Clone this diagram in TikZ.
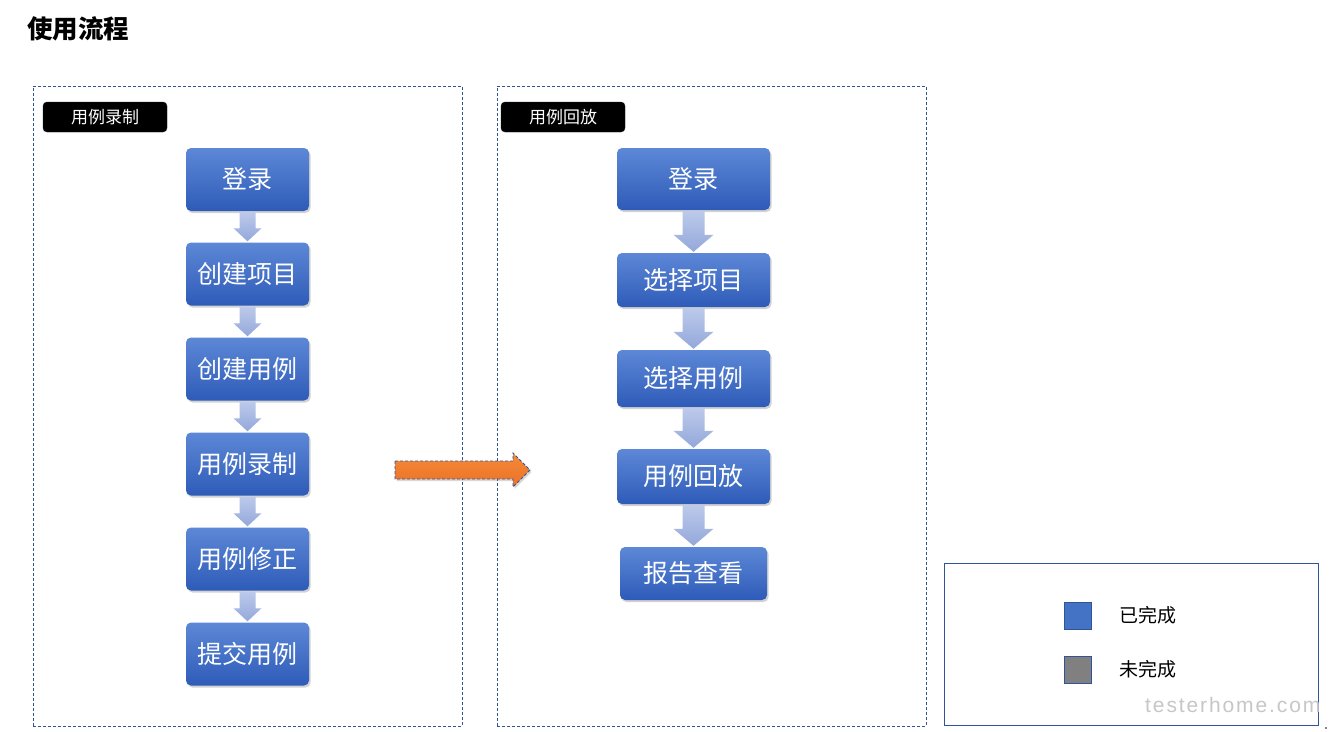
\documentclass[tikz,border=0pt]{standalone}
\usepackage{fontspec}
\setmainfont{Noto Sans CJK SC}
\newfontfamily\wmfont[LetterSpace=9]{Liberation Sans}
\usetikzlibrary{shadows,calc}
\definecolor{boxtop}{HTML}{5D88D7}
\definecolor{boxbot}{HTML}{2E5BB8}
\definecolor{arrtop}{HTML}{BCC9EA}
\definecolor{arrbot}{HTML}{93A8DA}
\definecolor{frame}{HTML}{2F5597}
\definecolor{orangetop}{HTML}{F58A3A}
\definecolor{orangebot}{HTML}{EB7125}
\definecolor{doneblue}{HTML}{4472C4}
\newcommand\blkarrow[5]{%
  \path[top color=arrtop,bottom color=arrbot]
    ($(#1.south)+(-#3,1)$) -- ($(#2.north)+(-#3,-#5-1)$) -- ($(#2.north)+(-#4,-#5-1)$)
    -- ($(#2.north)+(0,-1)$) -- ($(#2.north)+(#4,-#5-1)$) -- ($(#2.north)+(#3,-#5-1)$)
    -- ($(#1.south)+(#3,1)$) -- cycle;}
\begin{document}
\begin{tikzpicture}[x=1pt,y=-1pt,
  flowbox/.style={rounded corners=5pt,top color=boxtop,bottom color=boxbot,
    draw=none,text=white,font=\fontsize{25}{28}\selectfont,inner sep=0pt,
    drop shadow={opacity=0.35,shadow xshift=1.5pt,shadow yshift=-2pt}},
  leftbox/.style={flowbox,minimum width=123pt,minimum height=63pt},
  panel/.style={draw=frame,line width=0.8pt,dash pattern=on 3pt off 2pt},
  tagbox/.style={fill=black,draw=black!70!frame,rounded corners=4pt,text=white,
    minimum width=124pt,minimum height=30pt,inner sep=0pt,font=\fontsize{17}{19}\selectfont},
  legsq/.style={draw=frame,line width=0.8pt,minimum width=27pt,minimum height=27pt,inner sep=0pt},
  legtext/.style={anchor=west,font=\fontsize{19}{22}\selectfont,inner sep=0pt}]
\useasboundingbox (0,0) rectangle (1332,731);
\fill[white] (0,0) rectangle (1332,731);

% title
\node[anchor=west,inner sep=0pt,font=\fontsize{25.5}{28}\selectfont\bfseries] (title) at (27,29) {使用流程};

% panels
\node[panel,minimum width=429pt,minimum height=640pt,inner sep=0pt] (pl) at (247.5,406) {};
\node[panel,minimum width=429pt,minimum height=640pt,inner sep=0pt] (pr) at (711.5,406) {};
\node[draw=frame,line width=0.9pt,minimum width=374pt,minimum height=162pt,inner sep=0pt] (leg) at (1131,644) {};

% tags
\node[tagbox] (tagl) at (105,117) {用例录制};
\node[tagbox] (tagr) at (563,117) {用例回放};

% left flow
\node[leftbox] (l1) at (247.5,179.5) {登录};
\node[leftbox] (l2) at (247.5,274) {创建项目};
\node[leftbox] (l3) at (247.5,369) {创建用例};
\node[leftbox] (l4) at (247.5,464) {用例录制};
\node[leftbox] (l5) at (247.5,559) {用例修正};
\node[leftbox] (l6) at (247.5,654) {提交用例};
\foreach \a/\b in {l1/l2,l2/l3,l3/l4,l4/l5,l5/l6}{\blkarrow{\a}{\b}{8}{14}{13}}

% right flow
\node[flowbox,minimum width=153pt,minimum height=62pt] (r1) at (693.5,179) {登录};
\node[flowbox,minimum width=153pt,minimum height=54pt] (r2) at (693.5,280) {选择项目};
\node[flowbox,minimum width=153pt,minimum height=57pt] (r3) at (693.5,378.5) {选择用例};
\node[flowbox,minimum width=153pt,minimum height=55pt] (r4) at (693.5,476.5) {用例回放};
\node[flowbox,minimum width=147pt,minimum height=53pt] (r5) at (693.5,573.5) {报告查看};
\foreach \a/\b in {r1/r2,r2/r3,r3/r4,r4/r5}{\blkarrow{\a}{\b}{11}{20}{17}}

% big orange arrow
\coordinate (oa) at (395,470);
\coordinate (ob) at (530,470);
\path[top color=orangetop,bottom color=orangebot,draw=frame,line width=0.8pt,
  dash pattern=on 3pt off 2pt,
  drop shadow={opacity=0.3,shadow xshift=1.5pt,shadow yshift=-2pt}]
  ($(oa)+(0,-9)$) -- ($(ob)+(-17,-9)$) -- ($(ob)+(-17,-17)$) -- (ob)
  -- ($(ob)+(-17,17)$) -- ($(ob)+(-17,9)$) -- ($(oa)+(0,9)$) -- cycle;

% legend
\node[legsq,fill=doneblue] (sq1) at (1078,615.5) {};
\node[legsq,fill=black!50] (sq2) at (1078,669.5) {};
\node[legtext] (t1) at (1119,615.5) {已完成};
\node[legtext] (t2) at (1119,669.5) {未完成};

% watermark
\node[anchor=west,inner sep=0pt,text=black!22,font=\wmfont\fontsize{21}{24}\selectfont] (wm) at (1145,705) {testerhome.com};
\fill[black] (1326,728) circle (0.8pt);
\end{tikzpicture}
\end{document}
